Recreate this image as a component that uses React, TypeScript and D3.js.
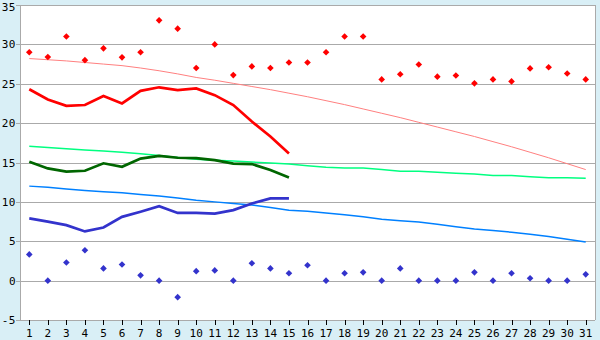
import React from "react";
import * as d3 from "d3";

const days = d3.range(1, 32);
const yTicks = [-5, 0, 5, 10, 15, 20, 25, 30, 35];

const maxRecord = [29.0, 28.4, 31.0, 28.0, 29.5, 28.35, 29.0, 33.05, 32.0, 27.0, 30.0, 26.1, 27.2, 27.0, 27.7, 27.7, 29.0, 31.0, 31.0, 25.55, 26.2, 27.45, 25.9, 26.05, 25.05, 25.55, 25.3, 26.95, 27.1, 26.3, 25.55];
const maxNormal = [28.2, 28.05, 27.9, 27.7, 27.5, 27.3, 27.0, 26.65, 26.25, 25.8, 25.45, 25.05, 24.65, 24.25, 23.8, 23.35, 22.85, 22.35, 21.8, 21.25, 20.7, 20.1, 19.5, 18.9, 18.3, 17.65, 17.0, 16.3, 15.6, 14.85, 14.1];
const maxActual = [24.3, 23.0, 22.2, 22.3, 23.45, 22.5, 24.1, 24.55, 24.2, 24.4, 23.55, 22.3, 20.2, 18.3, 16.15];
const meanActual = [15.1, 14.25, 13.85, 13.95, 14.9, 14.45, 15.5, 15.85, 15.6, 15.55, 15.3, 14.85, 14.8, 14.05, 13.1];
const meanNormal = [17.05, 16.9, 16.75, 16.6, 16.45, 16.3, 16.1, 15.9, 15.65, 15.4, 15.3, 15.2, 15.05, 14.95, 14.8, 14.6, 14.4, 14.3, 14.3, 14.1, 13.9, 13.9, 13.75, 13.65, 13.55, 13.35, 13.35, 13.2, 13.05, 13.05, 13.0];
const minNormal = [12.0, 11.85, 11.65, 11.45, 11.3, 11.15, 10.95, 10.75, 10.5, 10.2, 10.0, 9.8, 9.6, 9.3, 8.95, 8.8, 8.6, 8.35, 8.1, 7.8, 7.6, 7.45, 7.15, 6.85, 6.55, 6.35, 6.15, 5.9, 5.6, 5.25, 4.9];
const minActual = [7.9, 7.5, 7.05, 6.25, 6.75, 8.1, 8.75, 9.45, 8.6, 8.6, 8.5, 8.95, 9.8, 10.45, 10.45];
const minRecord = [3.33, 0, 2.3, 3.85, 1.55, 2.05, 0.67, 0, -2.1, 1.2, 1.3, 0, 2.2, 1.55, 0.93, 1.95, 0, 0.93, 1.05, 0, 1.55, 0, 0, 0, 1.05, 0, 0.93, 0.3, 0, 0, 0.8];

const W = 600, H = 340;
const L = 20, R = 595, T = 5, B = 320;
const font = "'DejaVu Sans Mono', monospace";

export default function App() {
  const x = d3.scalePoint<number>().domain(days).range([L, R]).padding(0.5);
  const y = d3.scaleLinear().domain([-5, 35]).range([B, T]);
  const line = (vals: number[]) =>
    d3.line<number>().x((_, i) => x(days[i])!).y((v) => y(v))(vals) || "";
  const sym = d3.symbol().type(d3.symbolDiamond2).size(28)() || "";

  return (
    <svg width={W} height={H} style={{ position: "absolute", left: 0, top: 0, display: "block" }}>
      <rect x={0} y={0} width={W} height={H} fill="#D9EFF6" />
      <rect x={L} y={T} width={R - L} height={B - T} fill="#FFFFFF" />
      {yTicks.map((t) => (
        <g key={t}>
          <line x1={L - 4} x2={R} y1={Math.round(y(t)) + 0.5} y2={Math.round(y(t)) + 0.5} stroke="#AAAAAA" strokeWidth={1} shapeRendering="crispEdges" />
          <text x={L - 4} y={Math.max(y(t) + 4, 11)} textAnchor="end" fontFamily={font} fontSize={11} letterSpacing={0.5} fill="#000">{t}</text>
        </g>
      ))}
      <line x1={L + 0.5} x2={L + 0.5} y1={T} y2={B} stroke="#AAAAAA" shapeRendering="crispEdges" />
      <line x1={R + 0.5} x2={R + 0.5} y1={T} y2={B} stroke="#AAAAAA" shapeRendering="crispEdges" />
      {days.map((d) => (
        <g key={d}>
          <line x1={Math.round(x(d)!) + 0.5} x2={Math.round(x(d)!) + 0.5} y1={B} y2={B + 5} stroke="#000" shapeRendering="crispEdges" />
          <text x={x(d)!} y={B + 17} textAnchor="middle" fontFamily={font} fontSize={11} fill="#000">{d}</text>
        </g>
      ))}
      <path d={line(maxNormal)} fill="none" stroke="#FF8080" strokeWidth={1} />
      <path d={line(meanNormal)} fill="none" stroke="#00FF80" strokeWidth={1.5} />
      <path d={line(minNormal)} fill="none" stroke="#0080FF" strokeWidth={1.5} />
      <path d={line(maxActual)} fill="none" stroke="#FF0000" strokeWidth={2.7} />
      <path d={line(meanActual)} fill="none" stroke="#006600" strokeWidth={2.7} />
      <path d={line(minActual)} fill="none" stroke="#3333CC" strokeWidth={2.7} />
      {maxRecord.map((v, i) => (
        <path key={"r" + i} d={sym} transform={`translate(${x(days[i])},${y(v)})`} fill="#FF0000" />
      ))}
      {minRecord.map((v, i) => (
        <path key={"b" + i} d={sym} transform={`translate(${x(days[i])},${y(v)})`} fill="#3333CC" />
      ))}
    </svg>
  );
}
